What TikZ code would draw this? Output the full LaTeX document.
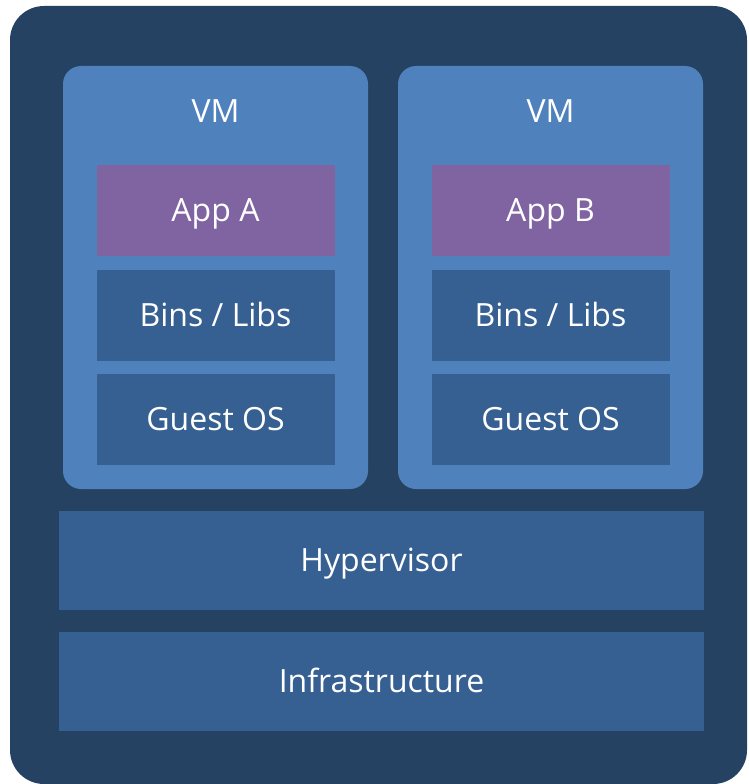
\documentclass[tikz,border=0pt]{standalone}
\usepackage{fontspec}
\setmainfont{Open Sans}
\definecolor{hostblue}{HTML}{264263}
\definecolor{vmblue}{HTML}{4F81BD}
\definecolor{layerblue}{HTML}{376092}
\definecolor{apppurple}{HTML}{8064A2}
\tikzset{
    boxtext/.style={text=white,inner sep=0pt,text height=22.7pt,text depth=0pt,font=\fontsize{32}{38}\selectfont},
    host/.style={fill=hostblue,rounded corners=34pt,minimum width=737pt,minimum height=778pt,inner sep=0pt},
    vm/.style={fill=vmblue,rounded corners=18pt,minimum width=305pt,minimum height=423pt,inner sep=0pt},
    layer/.style={boxtext,fill=layerblue,minimum width=238pt,minimum height=91pt},
    app/.style={layer,fill=apppurple},
    base/.style={boxtext,fill=layerblue,minimum width=645pt,minimum height=99pt}
}
\begin{document}
\begin{tikzpicture}[x=1pt,y=-1pt]
        \useasboundingbox (0,0) rectangle (748,784);
        \node[host] (host) at (378.5,395) {};
        % the two virtual machines
        \foreach \x/\name in {215.5/A,550.5/B}{
            \node[vm] (vm\name) at (\x,277.5) {};
            \node[boxtext] (vmlabel\name) at (\x,111) {VM};
            \node[app] (app\name) at (\x,210.5) {App \name};
            \node[layer] (bins\name) at (\x,315) {Bins / Libs};
            \node[layer] (guest\name) at (\x,419.5) {Guest OS};
        }
        \node[base] (hyper) at (381.5,560.5) {Hypervisor};
        \node[base] (infra) at (381.5,681.5) {Infrastructure};
\end{tikzpicture}
\end{document}
